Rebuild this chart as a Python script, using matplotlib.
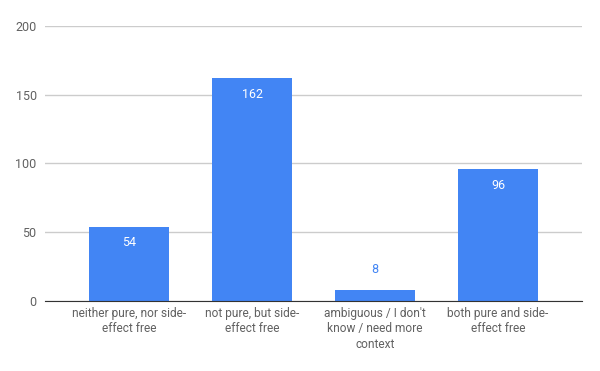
import matplotlib
matplotlib.use("Agg")
import matplotlib.pyplot as plt

categories = ["neither pure, nor side-\neffect free", "not pure, but side-\neffect free",
              "ambiguous / I don't\nknow / need more\ncontext", "both pure and side-\neffect free"]
values = [54, 162, 8, 96]
yticks = [0, 50, 100, 150, 200]

plt.rcParams['font.family'] = ['Roboto', 'DejaVu Sans']
BLUE = '#4285F4'
GRAY = '#616161'

fig = plt.figure(figsize=(6, 3.71), dpi=100)
ax = fig.add_axes([0.075, 0.1887, 0.895, 0.7413])
x = list(range(len(values)))
ax.bar(x, values, width=0.65, color=BLUE, zorder=3)
ax.set_xlim(-0.683, len(values) - 1 + 0.683)
ax.set_ylim(0, 200)
ax.set_yticks(yticks)
ax.set_yticklabels([str(t) for t in yticks], color=GRAY, fontsize=9)
ax.yaxis.grid(True, color='#cccccc', linewidth=1, zorder=0)
ax.tick_params(axis='y', length=0, pad=6)
ax.tick_params(axis='x', length=0, pad=4)
ax.set_xticks(x)
ax.set_xticklabels(categories, color=GRAY, fontsize=8.6, linespacing=1.25, va='top')
for s in ['top', 'right', 'left']:
    ax.spines[s].set_visible(False)
ax.spines['bottom'].set_color('#333333')
ax.spines['bottom'].set_zorder(4)

for xi, v in zip(x, values):
    if v > 20:
        ax.annotate(str(v), (xi, v), xytext=(0, -7), textcoords='offset points',
                    ha='center', va='top', color='white', fontsize=9, zorder=5)
    else:
        ax.annotate(str(v), (xi, v), xytext=(0, 10), textcoords='offset points',
                    ha='center', va='bottom', color=BLUE, fontsize=9, zorder=5)

fig.savefig('out.png', dpi=100, facecolor='white')
